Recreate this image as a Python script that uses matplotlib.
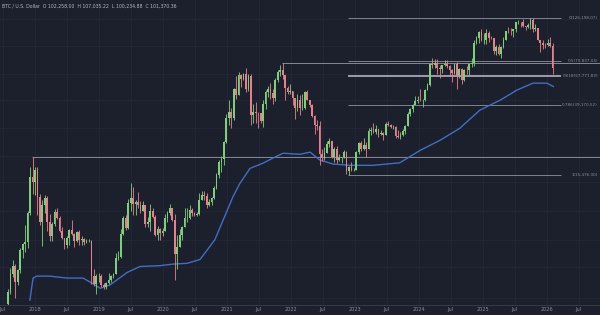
import datetime as dt

import matplotlib
matplotlib.use("Agg")
import matplotlib.pyplot as plt
import matplotlib.dates as mdates
import numpy as np

# two-week BTC/USD candles, values in thousands of USD, first period starts 2017-07-24
first_open = 2.75
closes = [
    3.22, 4.10, 4.60, 3.70, 4.37, 5.70, 6.14, 6.35, 9.30, 15.0, 14.0, 16.5,
    11.5, 8.2, 10.4, 11.4, 8.2, 6.8, 8.0, 9.4, 8.7, 7.35, 6.7, 6.1,
    6.7, 7.4, 7.0, 6.4, 7.2, 6.5, 6.6, 6.3, 6.4, 6.4, 4.0, 3.6,
    4.0, 4.0, 3.55, 3.45, 3.65, 3.8, 4.0, 4.1, 5.1, 5.2, 7.0, 8.7,
    7.6, 10.7, 11.4, 10.5, 10.8, 10.3, 9.6, 10.3, 8.0, 8.3, 9.5, 8.8,
    6.9, 7.5, 7.15, 7.35, 8.7, 9.35, 9.9, 8.5, 5.4, 5.9, 6.9, 7.7,
    8.7, 8.7, 9.7, 9.3, 9.1, 9.2, 11.1, 11.9, 11.7, 10.3, 10.8, 11.4,
    13.0, 15.5, 18.4, 19.2, 24.0, 33.0, 36.0, 33.1, 48.8, 45.2, 59.0, 55.8,
    60.0, 49.0, 58.2, 34.7, 35.8, 35.5, 35.3, 31.8, 39.9, 47.0, 48.8, 46.0,
    43.2, 54.9, 61.0, 63.3, 58.6, 49.4, 46.7, 47.3, 43.1, 37.9, 42.2, 37.7,
    37.8, 46.8, 42.2, 39.5, 34.0, 30.3, 29.9, 20.5, 19.3, 20.8, 23.3, 24.3,
    19.6, 21.8, 18.8, 19.4, 19.6, 21.0, 16.3, 17.1, 16.6, 16.6, 20.9, 23.7,
    21.8, 23.2, 22.0, 27.9, 28.3, 27.6, 28.7, 26.8, 27.1, 26.5, 30.6, 30.3,
    29.3, 29.4, 26.0, 25.8, 26.3, 27.9, 29.9, 35.0, 37.4, 39.5, 41.4, 42.3,
    42.0, 42.1, 48.3, 51.7, 68.5, 67.2, 69.4, 65.0, 64.0, 66.9, 67.8, 66.6,
    62.7, 60.8, 68.2, 58.7, 64.2, 54.8, 63.3, 62.8, 68.4, 68.8, 90.5, 97.2,
    104.5, 93.7, 94.5, 102.6, 96.5, 96.2, 80.7, 86.1, 78.4, 85.1, 94.3, 106.4,
    105.6, 105.5, 108.3, 119.0, 119.4, 119.3, 113.5, 111.2, 115.3, 123.5, 108.6, 110.6,
    94.5, 90.4, 88.2, 87.8, 90.5, 86.5, 65.0,
]
highs = [
    3.35, 4.48, 4.98, 4.70, 4.40, 5.85, 6.20, 7.90, 9.50, 17.2, 19.8, 17.2,
    17.2, 12.0, 11.0, 11.8, 11.7, 9.2, 8.2, 9.8, 9.99, 8.9, 7.75, 6.7,
    6.8, 7.5, 8.5, 7.15, 7.35, 7.4, 6.8, 6.7, 6.6, 6.6, 6.5, 4.4,
    4.1, 4.2, 4.1, 3.65, 3.70, 4.2, 4.05, 4.15, 5.45, 5.6, 7.5, 8.9,
    9.1, 11.2, 13.9, 13.2, 11.1, 12.3, 10.9, 10.9, 10.3, 8.8, 10.5, 9.9,
    9.1, 7.8, 7.6, 7.6, 9.2, 9.6, 10.5, 10.0, 9.2, 6.9, 7.5, 7.8,
    10.0, 9.9, 10.4, 9.9, 9.4, 9.4, 12.1, 12.5, 12.5, 12.1, 11.2, 11.5,
    13.3, 15.9, 18.8, 19.9, 24.3, 34.8, 41.9, 38.0, 49.7, 58.4, 61.7, 60.0,
    60.2, 64.8, 59.6, 59.6, 40.0, 41.3, 36.0, 35.0, 42.3, 48.1, 50.5, 52.9,
    48.8, 56.5, 62.9, 67.0, 69.0, 59.0, 51.0, 52.0, 47.5, 43.4, 45.8, 44.8,
    45.4, 47.6, 48.2, 42.4, 40.0, 34.3, 32.4, 31.7, 21.9, 22.5, 24.3, 25.2,
    24.4, 22.5, 22.8, 20.5, 19.7, 21.5, 21.4, 17.4, 18.4, 17.0, 21.2, 23.9,
    24.3, 25.3, 24.0, 28.9, 29.2, 31.0, 30.0, 28.0, 28.4, 27.4, 31.4, 31.8,
    30.4, 30.0, 29.7, 28.1, 27.4, 28.6, 30.1, 35.9, 38.0, 39.8, 44.7, 44.4,
    49.0, 43.0, 48.6, 52.9, 69.0, 73.8, 72.7, 72.8, 67.2, 67.4, 71.9, 71.9,
    66.9, 63.8, 68.4, 70.0, 65.0, 64.9, 64.1, 66.5, 69.4, 73.6, 93.4, 99.6,
    106.5, 108.4, 102.7, 109.6, 106.5, 99.5, 96.5, 87.5, 88.8, 86.4, 97.9, 106.6,
    111.9, 110.5, 109.0, 119.4, 123.2, 120.2, 124.5, 113.4, 117.9, 125.7, 126.2, 116.4,
    107.0, 93.2, 94.6, 90.4, 94.8, 97.9, 90.0,
]
lows = [
    2.60, 3.15, 3.95, 2.97, 3.55, 4.20, 5.10, 5.50, 5.80, 9.0, 12.0, 11.8,
    9.0, 7.9, 6.0, 9.3, 7.3, 6.4, 6.4, 7.8, 8.6, 7.25, 6.6, 5.75,
    5.8, 6.1, 6.9, 5.9, 6.3, 6.1, 6.1, 6.1, 6.25, 6.3, 3.6, 3.5,
    3.15, 3.7, 3.45, 3.35, 3.35, 3.6, 3.7, 3.9, 4.1, 4.95, 5.1, 6.9,
    7.45, 7.5, 9.6, 9.1, 9.1, 9.9, 9.35, 9.55, 7.7, 7.7, 7.3, 8.7,
    6.8, 6.5, 6.45, 6.85, 7.3, 8.2, 9.1, 8.4, 3.8, 4.4, 5.9, 6.5,
    7.7, 8.2, 8.6, 8.9, 8.9, 8.95, 9.1, 11.1, 11.1, 9.9, 10.2, 10.4,
    11.2, 12.9, 14.8, 16.2, 17.6, 23.8, 30.3, 28.8, 32.3, 43.0, 44.9, 50.4,
    55.0, 47.0, 47.5, 30.0, 31.1, 31.1, 28.8, 31.1, 29.3, 37.5, 43.9, 42.8,
    40.2, 41.7, 53.8, 58.0, 55.6, 42.0, 45.6, 45.8, 39.6, 32.9, 36.3, 34.3,
    37.0, 37.2, 41.9, 38.5, 33.7, 26.7, 28.1, 17.6, 18.6, 18.9, 20.7, 22.5,
    19.5, 18.5, 18.2, 18.7, 18.2, 19.3, 15.6, 15.5, 16.3, 16.4, 16.5, 20.4,
    21.4, 21.5, 19.6, 21.9, 26.5, 27.1, 26.9, 25.8, 26.3, 24.8, 26.3, 29.6,
    28.9, 28.7, 25.2, 25.4, 24.9, 26.0, 26.6, 29.8, 34.0, 35.7, 40.2, 40.5,
    41.5, 38.5, 41.8, 48.4, 50.9, 64.5, 65.0, 59.6, 56.5, 60.6, 66.6, 65.0,
    58.4, 53.5, 59.8, 49.0, 56.2, 52.5, 54.6, 59.8, 58.9, 65.3, 66.8, 88.8,
    90.5, 92.2, 89.3, 89.2, 91.2, 94.9, 78.2, 76.6, 77.2, 74.4, 85.0, 93.5,
    103.0, 100.4, 98.2, 105.1, 115.7, 111.9, 112.0, 107.3, 110.6, 108.6, 104.0, 106.6,
    94.0, 80.5, 83.8, 84.5, 86.8, 86.0, 60.0,
]

# moving average line (decimal year, thousands USD)
ma_years = [2017.92, 2017.97, 2018.03, 2018.23, 2018.50, 2018.75, 2018.86, 2019.02,
            2019.17, 2019.44, 2019.64, 2019.95, 2020.16, 2020.38, 2020.58, 2020.81,
            2020.97, 2021.09, 2021.20, 2021.36, 2021.56, 2021.78, 2021.88, 2022.14,
            2022.30, 2022.45, 2022.66, 2022.92, 2023.28, 2023.70, 2024.02, 2024.33,
            2024.64, 2024.95, 2025.27, 2025.53, 2025.78, 2026.00, 2026.10]
ma_values = [2.9, 3.9, 4.0, 4.0, 3.9, 3.9, 3.7, 3.4,
             3.55, 4.2, 4.55, 4.6, 4.7, 4.75, 5.0, 6.5,
             9.0, 11.5, 13.8, 16.9, 18.1, 19.9, 20.7, 20.4,
             21.0, 18.9, 17.9, 17.6, 17.6, 18.2, 21.5, 24.6,
             28.9, 36.8, 42.1, 48.1, 52.8, 52.8, 50.5]

# fibonacci retracement, Nov 2022 low to Oct 2025 high
fib_low, fib_high = 15476.0, 126198.07
fib_levels = [0, 0.5, 0.618, 0.786, 1]

header = "BTC / U.S. Dollar  O 102,258.00  H 107,035.22  L 100,234.88  C 101,370.36"
tick_years = list(range(2017, 2027))


def to_date(y):
    year = int(y)
    start = dt.datetime(year, 1, 1)
    return start + (dt.datetime(year + 1, 1, 1) - start) * (y - year)


bg = "#1c1f2c"
grid = "#262a38"
up_col = "#7fcf7a"
down_col = "#e6808c"
text_col = "#8d909a"

fig = plt.figure(figsize=(6, 3.15), dpi=100, facecolor=bg)
ax = fig.add_axes([0, 10 / 315, 1, 305 / 315], facecolor=bg)

# candles
starts = [dt.datetime(2017, 7, 24) + dt.timedelta(days=14 * i) for i in range(len(closes))]
x = mdates.date2num(starts) + 7
c = np.array(closes) * 1000
o = np.concatenate([[first_open * 1000], c[:-1]])
h = np.array(highs) * 1000
l = np.array(lows) * 1000
cols = [up_col if cc >= oo else down_col for oo, cc in zip(o, c)]
ax.vlines(x, l, h, colors=cols, linewidth=0.75, alpha=0.85, zorder=3)
ax.bar(x, np.abs(c - o), bottom=np.minimum(o, c), width=10, color=cols,
       linewidth=0, zorder=4)

# moving average
ax.plot([to_date(v) for v in ma_years], np.array(ma_values) * 1000,
        color="#3f6fc4", linewidth=1.0, zorder=2)

# horizontal levels from old highs
ax.hlines(19700, mdates.date2num(dt.datetime(2017, 12, 17)), mdates.date2num(to_date(2026.83)),
          color="#a9acb5", linewidth=0.7, alpha=0.75, zorder=1)
ax.hlines(69000, mdates.date2num(dt.datetime(2021, 11, 10)), mdates.date2num(to_date(2026.83)),
          color="#a9acb5", linewidth=0.7, alpha=0.75, zorder=1)

# fib levels
f0 = mdates.date2num(dt.datetime(2022, 11, 21))
f1 = mdates.date2num(to_date(2026.22))
for lev in fib_levels:
    price = fib_high - lev * (fib_high - fib_low)
    lw, al = (1.4, 0.9) if lev == 0.618 else (0.7, 0.7)
    ax.hlines(price, f0, f1, color="#a9acb5", linewidth=lw, alpha=al, zorder=1)
    ax.text(598 / 600, np.log(price / 2720) / np.log(160500 / 2720),
            "{:g}({:,.2f})".format(lev, price), color=text_col,
            fontsize=3.0, va="center", ha="right", transform=ax.transAxes)

ax.set_yscale("log")
ax.set_ylim(2720, 160500)
ax.set_xlim(to_date(2017.453), to_date(2026.83))

# grid
for yy in [3000, 4500, 6500, 9500, 14000, 20000, 29000, 42000, 60000, 87000, 125000]:
    ax.axhline(yy, color=grid, linewidth=0.5, zorder=0)
ticks = []
labels = []
for yr in tick_years:
    if yr > 2017:
        ticks.append(dt.datetime(yr, 1, 1))
        labels.append(str(yr))
    ticks.append(dt.datetime(yr, 7, 1))
    labels.append("Jul")
for t in ticks:
    ax.axvline(t, color=grid, linewidth=0.5, zorder=0)
ax.set_xticks(ticks)
ax.set_xticklabels(labels)
ax.tick_params(axis="x", length=0, labelsize=3.6, colors=text_col, pad=1.5)
ax.set_yticks([])
ax.yaxis.set_minor_locator(matplotlib.ticker.NullLocator())
for side in ["top", "left", "right"]:
    ax.spines[side].set_visible(False)
ax.spines["bottom"].set_color("#3a3e4c")
ax.spines["bottom"].set_linewidth(0.6)

fig.text(2 / 600, 1 - 6 / 315, header, color="#b8bbc4", fontsize=3.3, va="center", ha="left")

fig.savefig("out.png", dpi=100, facecolor=bg)
